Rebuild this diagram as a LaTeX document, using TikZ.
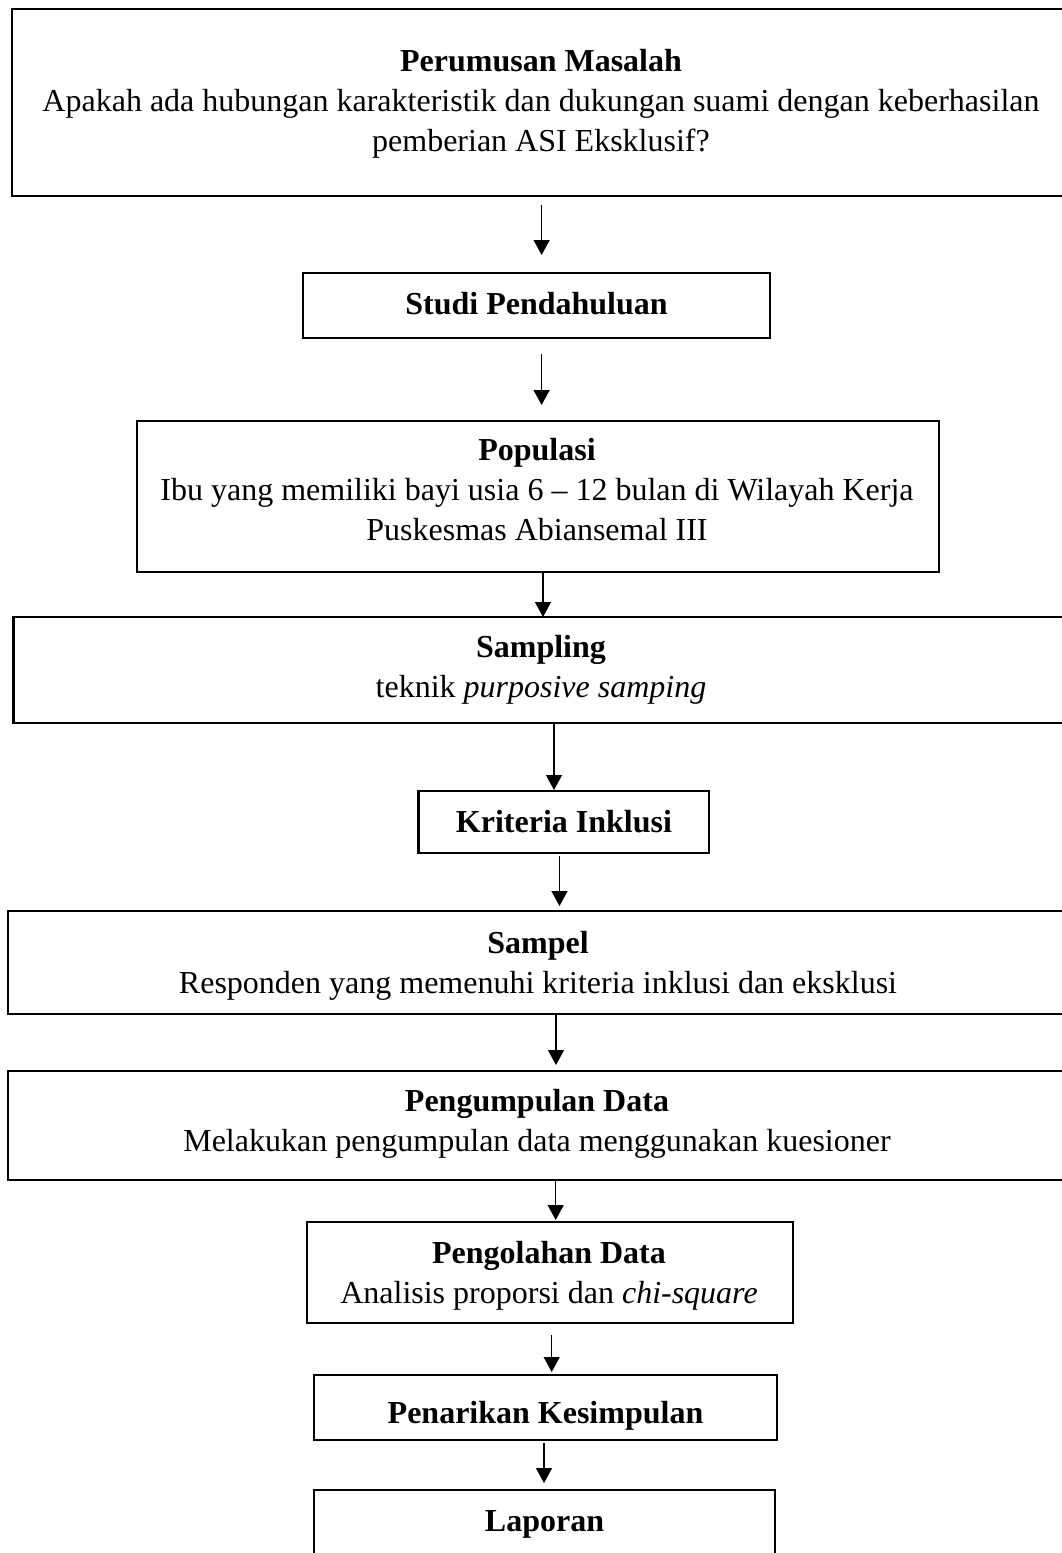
\documentclass[tikz,border=0pt]{standalone}
\usepackage{fontspec}
\setmainfont{Liberation Serif}
\usetikzlibrary{arrows.meta}
\begin{document}
\begin{tikzpicture}[x=1pt,y=-1pt,
  box/.style={draw, line width=2.6pt, inner sep=0pt, outer sep=0pt},
  txt/.style={align=center, inner sep=0pt, anchor=base, font=\fontsize{32}{40}\selectfont},
  arr/.style={line width=1.3pt, -{Triangle[width=16pt,length=15pt]}}]
\useasboundingbox (0,0) rectangle (1062,1553);
\clip (0,0) rectangle (1062,1553);
% boxes
\node[box, minimum width=1056pt, minimum height=187pt] (b1) at (540,102.5) {};
\node[box, minimum width=467pt, minimum height=65pt] (b2) at (536.5,305.5) {};
\node[box, minimum width=802pt, minimum height=151pt] (b3) at (538,496.5) {};
\node[box, minimum width=1054.5pt, minimum height=106pt] (b4) at (540.75,670) {};
\node[box, minimum width=290.5pt, minimum height=62pt] (b5) at (563.75,822) {};
\node[box, minimum width=1060pt, minimum height=103pt] (b6) at (538,962.5) {};
\node[box, minimum width=1060pt, minimum height=109pt] (b7) at (538,1125.5) {};
\node[box, minimum width=486pt, minimum height=101pt] (b8) at (550,1272.5) {};
\node[box, minimum width=463pt, minimum height=65pt] (b9) at (545.5,1407.5) {};
\node[box, minimum width=461pt, minimum height=130pt] (b10) at (544.5,1555) {};
% texts (anchor = baseline of the last line)
\node[txt] (t1) at (541,151.7) {\textbf{Perumusan Masalah}\\Apakah ada hubungan karakteristik dan dukungan suami dengan keberhasilan\\pemberian ASI Eksklusif?};
\node[txt] (t2) at (536.5,314) {\textbf{Studi Pendahuluan}};
\node[txt] (t3) at (537,540) {\textbf{Populasi}\\Ibu yang memiliki bayi usia 6 -- 12 bulan di Wilayah Kerja\\Puskesmas Abiansemal III};
\node[txt] (t4) at (541,697) {\textbf{Sampling}\\teknik \textit{purposive samping}};
\node[txt] (t5) at (564,832.7) {\textbf{Kriteria Inklusi}};
\node[txt] (t6) at (538,993) {\textbf{Sampel}\\Responden yang memenuhi kriteria inklusi dan eksklusi};
\node[txt] (t7) at (537,1151.5) {\textbf{Pengumpulan Data}\\Melakukan pengumpulan data menggunakan kuesioner};
\node[txt] (t8) at (549,1303.3) {\textbf{Pengolahan Data}\\Analisis proporsi dan \textit{chi-square}};
\node[txt] (t9) at (545.5,1423) {\textbf{Penarikan Kesimpulan}};
\node[txt] (t10) at (544.5,1531.7) {\textbf{Laporan}};
% arrows
\draw[arr, shorten <=9pt, shorten >=18pt] (b1.south -| 541.6,0) -- (b2.north -| 541.6,0);
\draw[arr, shorten <=16pt, shorten >=16pt] (b2.south -| 541.6,0) -- (b3.north -| 541.6,0);
\draw[arr] (b3.south -| 543,0) -- (b4.north -| 543,0);
\draw[arr, shorten >=1pt] (b4.south -| 554,0) -- (b5.north -| 554,0);
\draw[arr, shorten <=3pt, shorten >=5pt] (b5.south -| 559.5,0) -- (b6.north -| 559.5,0);
\draw[arr, shorten >=6pt] (b6.south -| 556,0) -- (b7.north -| 556,0);
\draw[arr, shorten >=2pt] (b7.south -| 555.7,0) -- (b8.north -| 555.7,0);
\draw[arr, shorten <=12pt, shorten >=3pt] (b8.south -| 551.7,0) -- (b9.north -| 551.7,0);
\draw[arr, shorten <=3pt, shorten >=7pt] (b9.south -| 544,0) -- (b10.north -| 544,0);
\end{tikzpicture}
\end{document}
